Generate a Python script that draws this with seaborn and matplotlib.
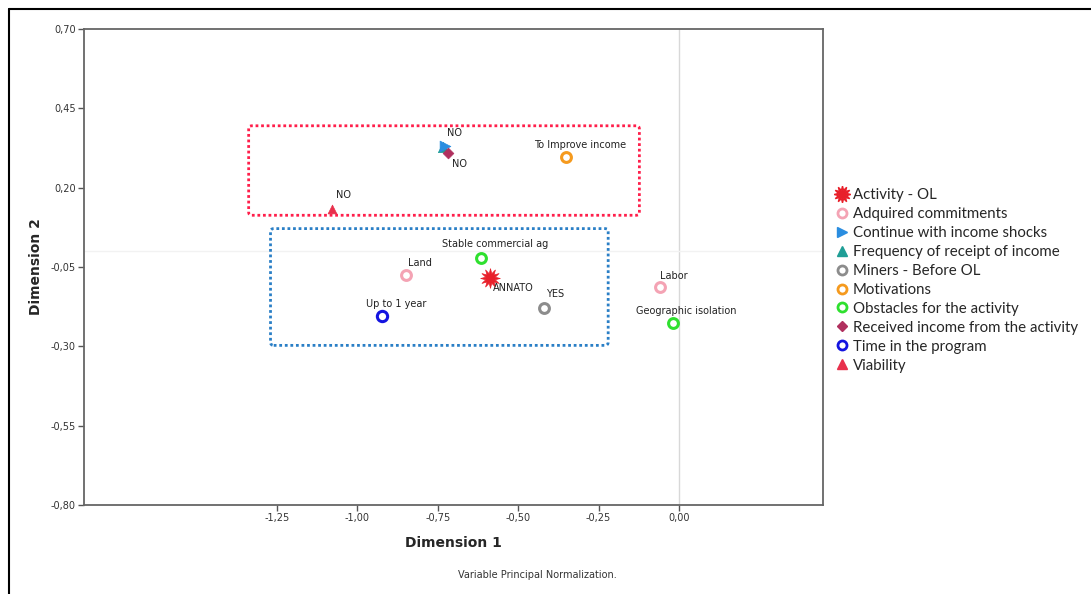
import matplotlib
matplotlib.use("Agg")
import matplotlib.pyplot as plt
from matplotlib.lines import Line2D
from matplotlib.patches import FancyBboxPatch
import seaborn as sns
import pandas as pd

# ---- data ----
groups = ["Activity - OL", "Adquired commitments", "Adquired commitments",
          "Continue with income shocks", "Frequency of receipt of income",
          "Miners - Before OL", "Motivations", "Obstacles for the activity",
          "Obstacles for the activity", "Received income from the activity",
          "Time in the program", "Viability"]
dim1 = [-0.588, -0.849, -0.059, -0.728, -0.735, -0.420, -0.351, -0.616, -0.019, -0.718, -0.923, -1.079]
dim2 = [-0.085, -0.075, -0.113, 0.331, 0.328, -0.179, 0.297, -0.022, -0.227, 0.309, -0.205, 0.133]
point_labels = ["ANNATO", "Land", "Labor", "NO", "", "YES", "To Improve income",
                "Stable commercial ag", "Geographic isolation", "NO", "Up to 1 year", "NO"]
legend_order = ["Activity - OL", "Adquired commitments", "Continue with income shocks",
                "Frequency of receipt of income", "Miners - Before OL", "Motivations",
                "Obstacles for the activity", "Received income from the activity",
                "Time in the program", "Viability"]
xticks = [-1.25, -1.00, -0.75, -0.50, -0.25, 0.00]
yticks = [0.70, 0.45, 0.20, -0.05, -0.30, -0.55, -0.80]

df = pd.DataFrame({"group": groups, "x": dim1, "y": dim2, "label": point_labels})

# ---- style ----
sns.set_theme(style="white")
plt.rcParams["font.family"] = ["DejaVu Sans"]

styles = {
    "Activity - OL": dict(marker=(12, 1, 0), color="#e8202a", size=200, hollow=False),
    "Adquired commitments": dict(marker="o", color="#f4a3b4", size=50, hollow=True),
    "Continue with income shocks": dict(marker=">", color="#2a8de0", size=60, hollow=False),
    "Frequency of receipt of income": dict(marker="^", color="#1f9e96", size=55, hollow=False),
    "Miners - Before OL": dict(marker="o", color="#8c8c8c", size=50, hollow=True),
    "Motivations": dict(marker="o", color="#f59a1e", size=50, hollow=True),
    "Obstacles for the activity": dict(marker="o", color="#2fe02f", size=50, hollow=True),
    "Received income from the activity": dict(marker="D", color="#b0305e", size=30, hollow=False),
    "Time in the program": dict(marker="o", color="#1414e0", size=55, hollow=True),
    "Viability": dict(marker="^", color="#e8304c", size=40, hollow=False),
}

fig = plt.figure(figsize=(10.91, 5.94), dpi=100)
ax = fig.add_axes([84 / 1091, 89 / 594, (823 - 84) / 1091, (505 - 29) / 594])

# reference lines
ax.axvline(0, color="#d8d8d8", lw=1, zorder=0)
ax.axhline(0, color="#f2f2f2", lw=1, zorder=0)

draw_order = ["Frequency of receipt of income"] + [g for g in legend_order if g != "Frequency of receipt of income"]
handles = {}
for g in draw_order:
    st = styles[g]
    sub = df[df["group"] == g]
    if st["hollow"]:
        sns.scatterplot(data=sub, x="x", y="y", ax=ax, marker=st["marker"], s=st["size"],
                        facecolor="white", edgecolor=st["color"], linewidth=2.2, zorder=3)
        handles[g] = Line2D([], [], ls="none", marker="o", markersize=6.5, markerfacecolor="white",
                            markeredgecolor=st["color"], markeredgewidth=2)
    else:
        sns.scatterplot(data=sub, x="x", y="y", ax=ax, marker=st["marker"], s=st["size"],
                        color=st["color"], edgecolor=st["color"], linewidth=0.5, zorder=3)
        ms = 12 if g == "Activity - OL" else 7
        if st["marker"] == "D":
            ms = 5.5
        handles[g] = Line2D([], [], ls="none", marker=st["marker"], markersize=ms,
                            color=st["color"])

# point labels (offsets in pixels)
offsets = {
    "ANNATO": (3, -5, "left", "top"),
    "Land": (2, 7, "left", "bottom"),
    "Labor": (0, 6, "left", "bottom"),
    "YES": (2, 9, "left", "bottom"),
    "To Improve income": (14, 7, "center", "bottom"),
    "Stable commercial ag": (14, 9, "center", "bottom"),
    "Geographic isolation": (13, 7, "center", "bottom"),
    "Up to 1 year": (14, 7, "center", "bottom"),
}
no_offsets = [(2, 8, "left", "bottom"), (4, -6, "left", "top"), (4, 9, "left", "bottom")]
k = 0
for _, r in df.iterrows():
    if not r["label"]:
        continue
    if r["label"] == "NO":
        dx, dy, ha, va = no_offsets[k]
        k += 1
    else:
        dx, dy, ha, va = offsets[r["label"]]
    ax.annotate(r["label"], (r["x"], r["y"]), xytext=(dx, dy), textcoords="offset pixels",
                ha=ha, va=va, fontsize=7, color="#222222", zorder=4)

# dotted grouping boxes
ax.add_patch(FancyBboxPatch((-1.338, 0.113), 1.215, 0.282, boxstyle="round,pad=0,rounding_size=0.01",
                            fill=False, ec="#ff1f4b", lw=2, ls=(0, (1, 1)), zorder=2))
ax.add_patch(FancyBboxPatch((-1.270, -0.297), 1.050, 0.368, boxstyle="round,pad=0,rounding_size=0.01",
                            fill=False, ec="#2a7fc6", lw=2, ls=(0, (1, 1)), zorder=2))

ax.set_xlim(-1.85, 0.448)
ax.set_ylim(-0.80, 0.70)
ax.set_xticks(xticks)
ax.set_yticks(yticks)
ax.set_xticklabels([f"{v:.2f}".replace(".", ",") for v in xticks], fontsize=7, color="#333333")
ax.set_yticklabels([f"{v:.2f}".replace(".", ",") for v in yticks], fontsize=7, color="#333333")
ax.tick_params(axis="both", direction="out", length=4, width=1, color="#555555", pad=2,
               bottom=True, left=True)
for sp in ax.spines.values():
    sp.set_color("#666666")
    sp.set_linewidth(1.3)
ax.set_xlabel("Dimension 1", fontsize=10, fontweight="bold", labelpad=9)
ax.set_ylabel("Dimension 2", fontsize=10, fontweight="bold", labelpad=5)
ax.grid(False)

fig.legend([handles[g] for g in legend_order], legend_order, loc="upper left",
           bbox_to_anchor=(828 / 1091, 1 - 182 / 594), frameon=False,
           labelspacing=0.33, handletextpad=0.25, handlelength=1.0, borderaxespad=0,
           prop={"family": "Lato", "size": 10.8})

fig.text(537 / 1091, 1 - 575 / 594, "Variable Principal Normalization.", ha="center", va="center",
         fontsize=7, color="#333333")

# outer frame lines
fig.add_artist(Line2D([9 / 1091, 9 / 1091], [0, 1 - 9 / 594], color="black", lw=1.5,
                      transform=fig.transFigure))
fig.add_artist(Line2D([9 / 1091, 1], [1 - 9 / 594, 1 - 9 / 594], color="black", lw=1.5,
                      transform=fig.transFigure))

fig.savefig("out.png", dpi=100, facecolor="white")
